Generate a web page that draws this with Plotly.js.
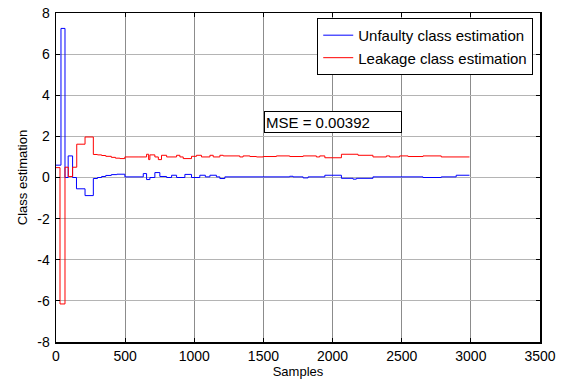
<!DOCTYPE html>
<html>
<head>
<meta charset="utf-8">
<script src="https://cdn.plot.ly/plotly-3.0.1.min.js"></script>
<style>html,body{margin:0;padding:0;background:#fff;}#chart{width:565px;height:380px;}</style>
</head>
<body>
<div id="chart"></div>
<script>
// Unfaulty class estimation (blue), step breakpoints
const unfaultyX = [0,36,65,88,120,148,210,270,300,330,360,400,440,498,631,655,679,715,751,800,836,872,932,980,1040,1080,1113,1160,1185,1221,1690,1714,1787,1823,1944,2064,2148,2172,2292,2654,2786,2894,2990];
const unfaultyY = [0.6,7.25,0.0,1.05,0.0,-0.55,-0.88,-0.05,0.0,0.05,0.1,0.14,0.16,0.03,0.19,-0.1,0.0,0.24,0.05,0.0,0.11,0.0,0.15,0.0,0.11,0.03,0.11,0.03,-0.05,0.03,0.06,0.03,-0.02,0.03,0.11,-0.04,-0.08,-0.04,0.03,0.0,0.03,0.11,0.11];
// Leakage class estimation (red), step breakpoints
const leakageX = [0,29,65,89,120,150,210,270,300,330,360,400,430,462,498,600,655,670,679,715,740,763,800,872,896,920,980,1016,1052,1113,1137,1185,1209,1329,1353,1402,1450,1498,1594,1690,1787,1883,1907,1944,2064,2184,2292,2389,2413,2485,2546,2654,2786,2990];
const leakageY = [0.48,-6.15,0.5,0.05,0.5,1.62,1.97,1.12,1.1,1.07,1.03,0.98,0.94,0.92,1.0,1.0,1.13,0.87,1.1,1.0,0.87,1.08,1.0,1.08,1.0,0.92,1.03,1.08,1.0,1.08,1.0,1.08,1.05,1.0,1.05,1.02,1.0,1.02,1.05,1.02,1.05,1.0,1.05,0.96,1.13,1.08,1.0,1.05,1.0,1.05,1.02,1.05,1.0,1.0];
const seriesNames = ["Unfaulty class estimation", "Leakage class estimation"];
const xTicks = [0,500,1000,1500,2000,2500,3000,3500];
const yTicks = [-8,-6,-4,-2,0,2,4,6,8];
const mseText = "MSE = 0.00392";

const FONT = '"Liberation Sans", Arial, Helvetica, sans-serif';

const traces = [
  {x: unfaultyX, y: unfaultyY, name: seriesNames[0], type: 'scatter', mode: 'lines',
   line: {color: '#0000ff', width: 1, shape: 'hv'}},
  {x: leakageX, y: leakageY, name: seriesNames[1], type: 'scatter', mode: 'lines',
   line: {color: '#ff0000', width: 1, shape: 'hv'}}
];

const axisCommon = {
  showline: true, linecolor: '#000', linewidth: 1.5, mirror: 'ticks',
  ticks: 'inside', ticklen: 4, tickcolor: '#000',
  showgrid: true, gridwidth: 1,
  zeroline: false, tickfont: {family: FONT, size: 14, color: '#000'}
};

const layout = {
  width: 565, height: 380,
  margin: {l: 56, r: 25, t: 13, b: 38},
  paper_bgcolor: '#fff', plot_bgcolor: '#fff',
  font: {family: FONT, size: 14, color: '#000'},
  showlegend: true,
  legend: {x: 0.986, y: 0.985, xanchor: 'right', yanchor: 'top',
    bgcolor: '#fff', bordercolor: '#000', borderwidth: 1, itemwidth: 30,
    font: {family: FONT, size: 15, color: '#000'}, tracegroupgap: 0},
  xaxis: Object.assign({}, axisCommon, {
    range: [0, 3500], tickvals: xTicks, ticktext: xTicks.map(String),
    gridcolor: '#8c8c8c', ticklabelstandoff: 1,
    title: {text: 'Samples', font: {family: FONT, size: 13, color: '#000'}, standoff: 1}
  }),
  yaxis: Object.assign({}, axisCommon, {
    range: [-8, 8], tickvals: yTicks, ticktext: yTicks.map(String),
    gridcolor: '#b4b4b4', ticklabelstandoff: 2,
    title: {text: 'Class estimation', font: {family: FONT, size: 13, color: '#000'}, standoff: 6}
  }),
  annotations: [{
    xref: 'paper', yref: 'paper', x: 0.572, y: 0.669, xanchor: 'center', yanchor: 'middle',
    text: mseText, showarrow: false, align: 'left',
    width: 134, height: 18, bgcolor: '#fff', bordercolor: '#000', borderwidth: 1, borderpad: 1,
    font: {family: FONT, size: 15, color: '#000'}
  }]
};

Plotly.newPlot('chart', traces, layout, {displayModeBar: false, staticPlot: true});
</script>
</body>
</html>
